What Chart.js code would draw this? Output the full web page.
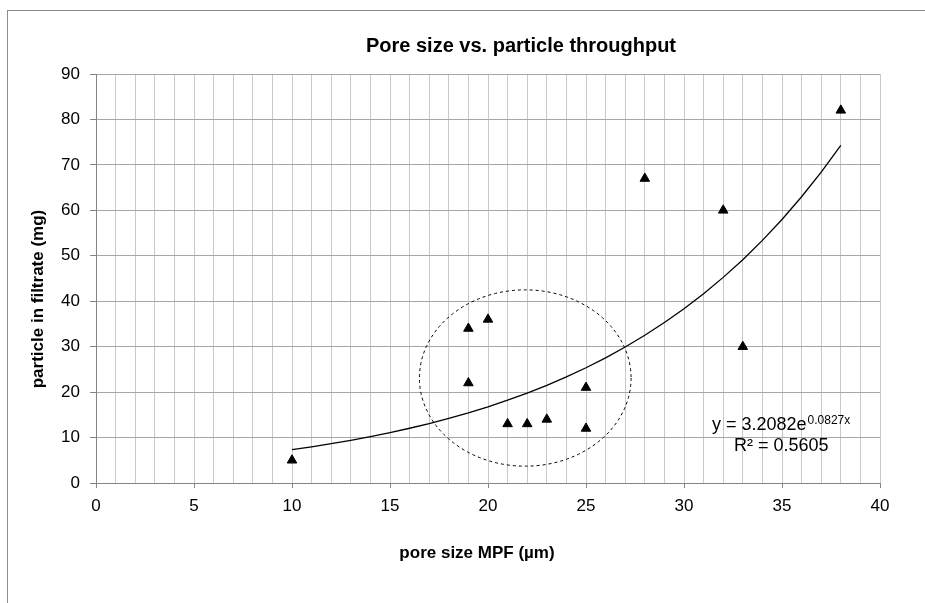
<!DOCTYPE html>
<html>
<head>
<meta charset="utf-8">
<script src="https://cdn.jsdelivr.net/npm/chart.js@4.4.1/dist/chart.umd.min.js"></script>
<style>
  html, body { margin: 0; padding: 0; background: #ffffff; overflow: hidden; }
  #wrap { position: relative; width: 925px; height: 603px; overflow: hidden; }
  #frame { position: absolute; left: 7px; top: 10px; width: 1200px; height: 900px; border: 1px solid #8c8c8c; box-sizing: border-box; }
  #c { position: absolute; left: 0; top: 0; }
</style>
</head>
<body>
<div id="wrap">
  <div id="frame"></div>
  <canvas id="c" width="925" height="603"></canvas>
</div>
<script>
// ---- data ----
const poreSize = [10, 19, 19, 20, 21, 22, 23, 25, 25, 28, 32, 33, 38];
const particle = [5, 34, 22, 36, 13, 13, 14, 21, 12, 67, 60, 30, 82];

// exponential trendline shown on the chart: y = a * e^(b x)
const trendA = 3.2082;
const trendB = 0.0827;
const trendR2 = 0.5605;
const trendXs = [10, 11, 12, 13, 14, 15, 16, 17, 18, 19, 20, 21, 22, 23, 24, 25, 26, 27, 28, 29, 30, 31, 32, 33, 34, 35, 36, 37, 38];

// dashed ellipse highlighting the cluster (data units)
const ellipseCenter = [21.9, 23.1];
const ellipseRadii = [5.4, 19.4];

const titleText = 'Pore size vs. particle throughput';
const xTitleText = 'pore size MPF (µm)';
const yTitleText = 'particle in filtrate (mg)';
const eqMain = 'y = 3.2082e';
const eqExp = '0.0827x';
const r2Text = 'R² = 0.5605';

const xMin = 0, xMax = 40, xStep = 1, xLabelEvery = 5;
const yMin = 0, yMax = 90, yStep = 10;

const FONT = '"Liberation Sans", Arial, sans-serif';

const scatterPts = poreSize.map((x, i) => ({ x: x, y: particle[i] }));
const trendPts = trendXs.map(x => ({ x: x, y: trendA * Math.exp(trendB * x) }));

const overlay = {
  id: 'overlay',
  beforeDatasetsDraw(chart) {
    const ctx = chart.ctx, xs = chart.scales.x, ys = chart.scales.y;
    const cx = xs.getPixelForValue(ellipseCenter[0]);
    const cy = ys.getPixelForValue(ellipseCenter[1]);
    const rx = Math.abs(xs.getPixelForValue(ellipseCenter[0] + ellipseRadii[0]) - cx);
    const ry = Math.abs(ys.getPixelForValue(ellipseCenter[1] + ellipseRadii[1]) - cy);
    ctx.save();
    ctx.beginPath();
    ctx.setLineDash([3, 3]);
    ctx.lineWidth = 1;
    ctx.strokeStyle = '#000000';
    ctx.ellipse(cx, cy, rx, ry, 0, 0, Math.PI * 2);
    ctx.stroke();
    ctx.restore();
  },
  afterDraw(chart) {
    const ctx = chart.ctx;
    ctx.save();
    ctx.fillStyle = '#000000';
    // chart title
    ctx.font = 'bold 20px ' + FONT;
    ctx.textAlign = 'center';
    ctx.textBaseline = 'alphabetic';
    ctx.fillText(titleText, 521, 52);
    // x axis title
    ctx.font = 'bold 17px ' + FONT;
    ctx.fillText(xTitleText, 477, 558);
    // y axis title
    ctx.save();
    ctx.translate(38, 299);
    ctx.rotate(-Math.PI / 2);
    ctx.textBaseline = 'middle';
    ctx.fillText(yTitleText, 0, 0);
    ctx.restore();
    // trendline equation
    ctx.textAlign = 'left';
    ctx.textBaseline = 'alphabetic';
    ctx.font = '18px ' + FONT;
    const ex = 712, ey = 430;
    ctx.fillText(eqMain, ex, ey);
    const w = ctx.measureText(eqMain).width;
    ctx.font = '12px ' + FONT;
    ctx.fillText(eqExp, ex + w + 1, ey - 6);
    ctx.font = '18px ' + FONT;
    ctx.fillText(r2Text, 734, 451);
    ctx.restore();
  }
};

new Chart(document.getElementById('c'), {
  type: 'scatter',
  data: {
    datasets: [
      {
        label: 'particle',
        data: scatterPts,
        pointStyle: 'triangle',
        pointRadius: 5.5,
        pointHoverRadius: 5.5,
        backgroundColor: '#000000',
        borderColor: '#000000',
        borderWidth: 1,
        order: 1
      },
      {
        label: 'trend',
        data: trendPts,
        showLine: true,
        pointRadius: 0,
        borderColor: '#000000',
        borderWidth: 1.3,
        tension: 0,
        fill: false,
        order: 2
      }
    ]
  },
  options: {
    responsive: false,
    animation: false,
    events: [],
    layout: { padding: { top: 74, left: 0, right: 45, bottom: 0 } },
    plugins: {
      legend: { display: false },
      title: { display: false },
      tooltip: { enabled: false }
    },
    scales: {
      x: {
        type: 'linear',
        min: xMin, max: xMax,
        afterFit(scale) { scale.height = 120; },
        ticks: {
          stepSize: xStep,
          autoSkip: false,
          maxRotation: 0,
          padding: 8,
          color: '#000000',
          font: { family: FONT, size: 17 },
          callback: v => (v % xLabelEvery === 0 ? String(v) : '')
        },
        grid: {
          color: '#c8c8c8',
          lineWidth: 1,
          tickLength: 5,
          tickColor: ctx => (ctx.tick && ctx.tick.value % xLabelEvery === 0 ? '#868686' : 'rgba(0,0,0,0)')
        },
        border: { color: '#868686', width: 1 }
      },
      y: {
        type: 'linear',
        min: yMin, max: yMax,
        afterFit(scale) { scale.width = 96; },
        ticks: {
          stepSize: yStep,
          padding: 10,
          color: '#000000',
          font: { family: FONT, size: 17 }
        },
        grid: {
          color: '#a6a6a6',
          lineWidth: 1,
          tickLength: 6,
          tickColor: '#868686'
        },
        border: { color: '#868686', width: 1 }
      }
    }
  },
  plugins: [overlay]
});
</script>
</body>
</html>
